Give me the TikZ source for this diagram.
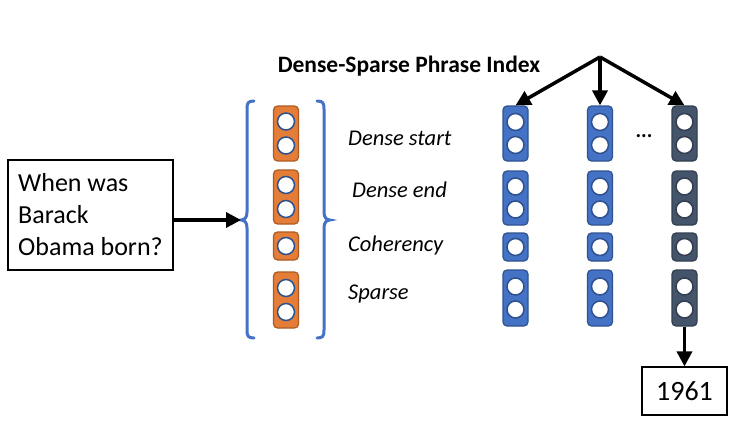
\documentclass[tikz,border=0pt]{standalone}
\usepackage{fontspec}
\setmainfont{Carlito}
\usepackage{xcolor}
\usetikzlibrary{arrows.meta,calc,positioning}
\definecolor{vorange}{HTML}{E47D37}
\definecolor{vorangeline}{HTML}{AE5A21}
\definecolor{vblue}{HTML}{4472C4}
\definecolor{vblueline}{HTML}{2F528F}
\definecolor{vslate}{HTML}{44546A}
\definecolor{vslateline}{HTML}{333F50}

\begin{document}
\begin{tikzpicture}[x=1pt, y=-1pt, >={Triangle[length=15pt,width=15pt]},
  vec/.style={rectangle, rounded corners=4pt, minimum width=25pt, line width=1.2pt, inner sep=0pt},
  orangevec/.style={vec, draw=vorangeline, fill=vorange},
  bluevec/.style={vec, draw=vblueline, fill=vblue},
  slatevec/.style={vec, draw=vslateline, fill=vslate},
  hole/.style={circle, draw=vblueline, fill=white, line width=1.5pt, minimum size=17pt, inner sep=0pt},
  brace/.style={vblue, line width=3pt, line cap=round},
  link/.style={->, line width=3.5pt},
  tag/.style={font=\fontsize{22.5}{27}\selectfont\itshape, anchor=base west, inner sep=0pt}]

\useasboundingbox (0,0) rectangle (752,434);

% ---- Question ----
\node[draw, line width=1.2pt, minimum width=165pt, minimum height=110pt,
  align=left, font=\fontsize{26}{32}\selectfont] (question) at (90.5,215)
  {When was\\Barack\\Obama born?};

% ---- Query encoding (orange) between braces ----
\coordinate (tip)  at (241,220);   % tip of left brace
\coordinate (tipR) at (330,220);   % tip of right brace
\draw[brace] (254,101) .. controls (248,101) and (247,103) .. (247,109)
  -- (247,212) .. controls (247,217) and (245,220) .. (tip)
  .. controls (245,220) and (247,223) .. (247,228)
  -- (247,330) .. controls (247,336) and (248,338) .. (254,338);
\draw[brace] (317,101) .. controls (323,101) and (324,103) .. (324,109)
  -- (324,212) .. controls (324,217) and (326,220) .. (tipR)
  .. controls (326,220) and (324,223) .. (324,228)
  -- (324,330) .. controls (324,336) and (323,338) .. (317,338);

\node[orangevec, minimum height=55pt] (o1) at (286,133.5) {};
\node[hole] (o1a) at ($(o1)+(0,-12)$) {};
\node[hole] (o1b) at ($(o1)+(0,12)$) {};
\node[orangevec, minimum height=54pt] (o2) at (286,197) {};
\node[hole] (o2a) at ($(o2)+(0,-12)$) {};
\node[hole] (o2b) at ($(o2)+(0,12)$) {};
\node[orangevec, minimum height=28pt] (o3) at (286,246) {};
\node[hole] (o3a) at (o3) {};
\node[orangevec, minimum height=56pt] (o4) at (286,300) {};
\node[hole] (o4a) at ($(o4)+(0,-12)$) {};
\node[hole] (o4b) at ($(o4)+(0,12)$) {};

\draw[link] (question.east |- tip) -- (tip);

% Labels
\node[tag] (lstart)  at (348,145) {Dense start};
\node[tag] (lend)    at (352,197) {Dense end};
\node[tag] (lcoh)    at (348,251) {Coherency};
\node[tag] (lsparse) at (348,299) {Sparse};

% ---- Phrase index (blue columns) ----
\foreach \c/\x/\sty/\rim in {1/515.5/bluevec/vblueline, 2/600/bluevec/vblueline, 3/684.5/slatevec/vslateline} {
  \node[\sty, minimum height=55pt] (v\c-1) at (\x,133.5) {};
  \node[\sty, minimum height=54pt] (v\c-2) at (\x,198) {};
  \node[\sty, minimum height=28pt] (v\c-3) at (\x,247) {};
  \node[\sty, minimum height=56pt] (v\c-4) at (\x,298) {};
  \foreach \r in {1,2,4} {
    \node[hole, draw=\rim] (h\c-\r a) at ($(v\c-\r)+(0,-11.5)$) {};
    \node[hole, draw=\rim] (h\c-\r b) at ($(v\c-\r)+(0,11.5)$) {};
  }
  \node[hole, draw=\rim] (h\c-3) at (v\c-3) {};
}
\node[font=\fontsize{21}{25}\selectfont\bfseries, anchor=base] (dots) at (644,137) {...};

\node[font=\fontsize{23.5}{28}\selectfont\bfseries, anchor=base] (title) at (409,72)
  {Dense-Sparse Phrase Index};

\coordinate (apex) at (600,57);
\draw[link] (apex) -- (v1-1.north);
\draw[link] (apex) -- (v2-1.north);
\draw[link] (apex) -- (v3-1.north);

% ---- Answer ----
\node[draw, line width=1.2pt, minimum width=85pt, minimum height=48pt,
  font=\fontsize{28}{34}\selectfont] (answer) at (684.5,391) {1961};
\draw[link] (v3-4.south) -- (answer.north);

\end{tikzpicture}
\end{document}
